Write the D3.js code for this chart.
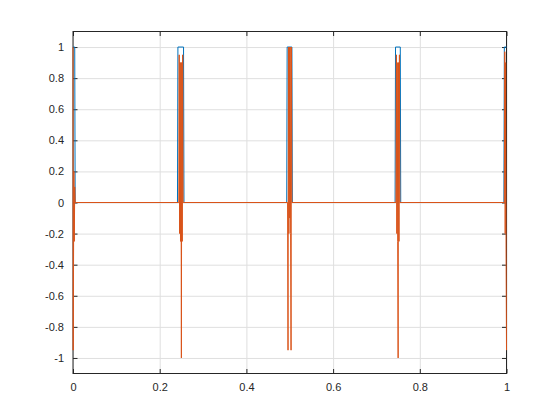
<!DOCTYPE html>
<html lang="en">

<head>
  <title>Pulse train</title>
  <script src="https://cdn.jsdelivr.net/npm/d3@7"></script>
  <style>
    body { margin: 0; background: #fff; }
    text { font-family: "Liberation Sans", Arial, Helvetica, sans-serif; font-size: 11px; fill: #262626; }
  </style>
</head>

<body>
  <script>
    // data: [t, value] breakpoints
    var xTicks = [0, 0.2, 0.4, 0.6, 0.8, 1];
    var yTicks = [-1, -0.8, -0.6, -0.4, -0.2, 0, 0.2, 0.4, 0.6, 0.8, 1];
    var xTickLabels = ["0", "0.2", "0.4", "0.6", "0.8", "1"];
    var yTickLabels = ["-1", "-0.8", "-0.6", "-0.4", "-0.2", "0", "0.2", "0.4", "0.6", "0.8", "1"];

    var pulseSignal = [
      [0, 1], [0.004, 1], [0.005, 0],
      [0.241, 0], [0.242, 1], [0.255, 1], [0.256, 0],
      [0.493, 0], [0.494, 1], [0.505, 1], [0.506, 0],
      [0.743, 0], [0.744, 1], [0.755, 1], [0.756, 0],
      [0.994, 0], [0.995, 1], [1, 1]
    ];
    var edgeSignal = [
      [0, 1], [0.0005, -0.95], [0.002, 0.2], [0.003, -0.25], [0.004, 0.1], [0.005, 0],
      [0.244, 0], [0.245, 0.95], [0.246, -0.2], [0.247, 0.9], [0.248, -0.25], [0.249, 0.9],
      [0.250, -1], [0.251, 0.9], [0.252, -0.25], [0.253, 0.95], [0.254, 0],
      [0.495, 0], [0.496, -0.95], [0.497, 1], [0.498, -0.2], [0.499, 1], [0.500, -0.1],
      [0.501, 1], [0.502, -0.2], [0.503, -0.95], [0.504, 1], [0.505, 0],
      [0.745, 0], [0.746, 0.95], [0.747, -0.2], [0.748, 0.9], [0.749, -0.25], [0.750, -1],
      [0.751, 0.9], [0.752, -0.25], [0.753, 0.95], [0.754, 0],
      [0.995, 0], [0.996, 0.97], [0.997, -0.2], [0.998, 0.9], [0.999, -0.3], [1, -0.95]
    ];

    var w = 560;
    var h = 420;
    var margin = {
      top: 31.5,
      left: 73,
      right: 53.5,
      bottom: 46.5
    };
    var width = w - margin.left - margin.right;
    var height = h - margin.top - margin.bottom;
    var tickLen = 4.5;

    var svg = d3.select("body").append("svg")
                .attr("width", w)
                .attr("height", h);
    var chart = svg.append("g")
                   .attr("transform", "translate(" + margin.left + "," + margin.top + ")");

    var x = d3.scaleLinear()
              .domain([0, 1])
              .range([0, width]);
    var y = d3.scaleLinear()
              .domain([-1.1, 1.1])
              .range([height, 0]);

    // grid
    chart.append("g")
         .attr("transform", "translate(0," + height + ")")
         .call(d3.axisBottom(x).tickValues(xTicks).tickSize(-height).tickFormat(""))
         .call(function (g) {
           g.select(".domain").remove();
           g.selectAll("line").attr("stroke", "#dfdfdf").attr("stroke-width", 1);
         });
    chart.append("g")
         .call(d3.axisLeft(y).tickValues(yTicks).tickSize(-width).tickFormat(""))
         .call(function (g) {
           g.select(".domain").remove();
           g.selectAll("line").attr("stroke", "#dfdfdf").attr("stroke-width", 1);
         });

    // axes with inward ticks on all four sides
    function styleAxis(g) {
      g.select(".domain").remove();
      g.selectAll("line").attr("stroke", "#262626");
      g.selectAll("text").attr("fill", "#262626").attr("font-size", 11)
       .attr("font-family", "'Liberation Sans', Arial, sans-serif");
    }

    chart.append("g")
         .attr("transform", "translate(0," + height + ")")
         .call(d3.axisBottom(x).tickValues(xTicks).tickSizeInner(-tickLen).tickSizeOuter(0).tickPadding(10)
                 .tickFormat(function (d, i) { return xTickLabels[i]; }))
         .call(styleAxis);
    chart.append("g")
         .call(d3.axisTop(x).tickValues(xTicks).tickSizeInner(-tickLen).tickSizeOuter(0).tickFormat(""))
         .call(styleAxis);
    chart.append("g")
         .call(d3.axisLeft(y).tickValues(yTicks).tickSizeInner(-tickLen).tickSizeOuter(0).tickPadding(9)
                 .tickFormat(function (d, i) { return yTickLabels[i]; }))
         .call(styleAxis);
    chart.append("g")
         .attr("transform", "translate(" + width + ",0)")
         .call(d3.axisRight(y).tickValues(yTicks).tickSizeInner(-tickLen).tickSizeOuter(0).tickFormat(""))
         .call(styleAxis);

    chart.append("rect")
         .attr("width", width)
         .attr("height", height)
         .attr("fill", "none")
         .attr("stroke", "#262626")
         .attr("stroke-width", 1);

    // lines drawn last, over the frame
    var line = d3.line()
                 .x(function (d) { return x(d[0]); })
                 .y(function (d) { return y(d[1]); });

    chart.append("path")
         .datum(pulseSignal)
         .attr("fill", "none")
         .attr("stroke", "#0072BD")
         .attr("stroke-width", 1)
         .attr("d", line);
    chart.append("path")
         .datum(edgeSignal)
         .attr("fill", "none")
         .attr("stroke", "#D95319")
         .attr("stroke-width", 1)
         .attr("d", line);
  </script>
</body>

</html>
